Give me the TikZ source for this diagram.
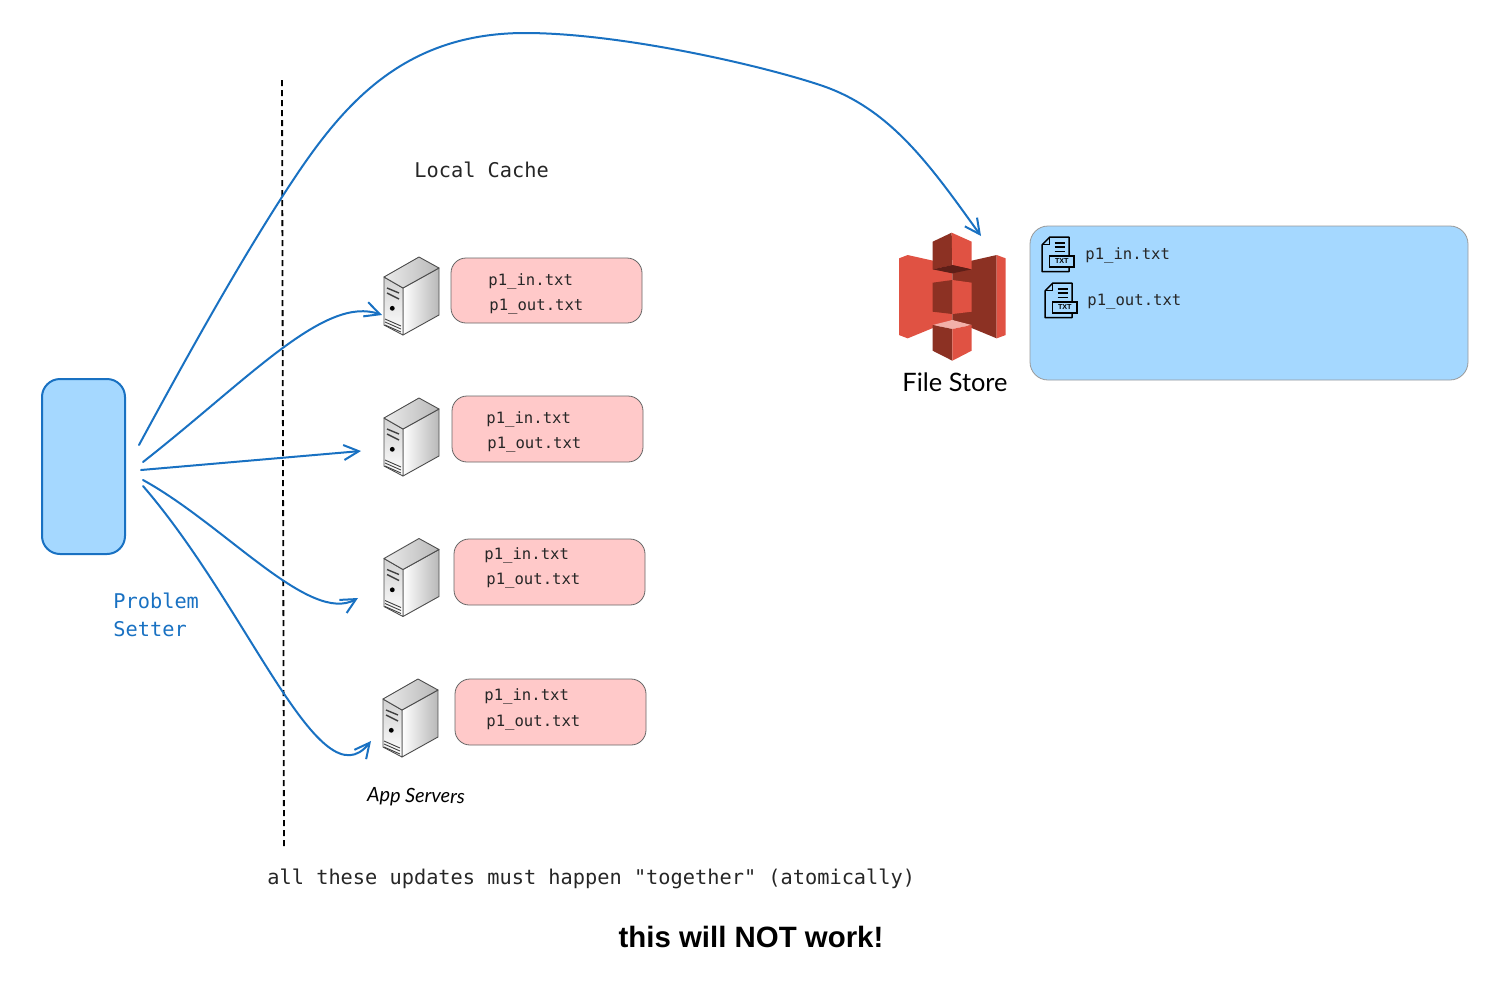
\documentclass[tikz,border=0pt]{standalone}
\usepackage{fontspec}
\setmainfont{Liberation Sans}
\setmonofont{DejaVu Sans Mono}
\newfontfamily\handfont{Lato}
\usetikzlibrary{arrows.meta}
\definecolor{flowblue}{HTML}{1971C2}
\definecolor{boxblue}{HTML}{A5D8FF}
\definecolor{boxpink}{HTML}{FFC9C9}
\definecolor{awslight}{HTML}{E05243}
\definecolor{awsdark}{HTML}{8C3123}
\definecolor{awsshadow}{HTML}{5E1F18}
\definecolor{awspale}{HTML}{F2B0A9}
\tikzset{
  x=0.5pt,y=-0.5pt,
  flow/.style={draw=flowblue,line width=1pt,line cap=round,-{Straight Barb[length=7.5pt,width=7.5pt,line width=1pt]}},
  pinkbox/.style={draw=black!60,line width=0.4pt,fill=boxpink,rounded corners=7.5pt},
  monolarge/.style={font=\ttfamily\fontsize{10.15}{12}\selectfont,inner sep=0pt,anchor=west,text=black!85},
  monosmall/.style={font=\ttfamily\fontsize{7.8}{9}\selectfont,inner sep=0pt,anchor=west,text=black!85},
  bluelabel/.style={font=\ttfamily\fontsize{10.15}{12}\selectfont,inner sep=0pt,anchor=west,text=flowblue},
  srvline/.style={draw=black!70,line width=0.45pt,line join=round},
  serverpic/.pic={
    \path[srvline,left color=white,right color=black!28] (19,31) -- (55,11) -- (55,58) -- (19,78) -- cycle;
    \path[srvline,top color=black!18,bottom color=white] (0,20) -- (19,31) -- (19,78) -- (0,68) -- cycle;
    \path[srvline,left color=black!8,right color=black!28] (0,20) -- (35,0) -- (55,11) -- (19,31) -- cycle;
    \draw[black!75,line width=0.7pt] (3,31) -- (15,36) (3,36) -- (15,42);
    \fill[black] (8.3,51.3) circle[radius=2.4];
    \draw[black!75,line width=0.45pt] (1,62) -- (17,69) (1,65) -- (17,72) (1,68) -- (17,75);
  },
  docpic/.pic={
    \draw[black,line width=0.75pt,line join=round] (0,25) -- (23,2) -- (81,2) -- (81,58) (0,25) -- (0,105) -- (81,105) -- (81,92);
    \draw[black,line width=0.6pt] (0,25) -- (23,25) -- (23,2);
    \draw[black,line width=0.7pt] (38,20) -- (68,20) (38,32) -- (68,32) (38,45) -- (68,45);
    \draw[black,line width=0.75pt,fill=boxblue] (23,58) rectangle (96,92);
    \node[font=\fontsize{3.6}{4}\selectfont\bfseries,inner sep=0pt] at (59.5,75) {TXT};
  }
}
\begin{document}
\begin{tikzpicture}
\useasboundingbox (0,0) rectangle (1512,992);

% dashed boundary
\coordinate (dashtop) at (282,80);
\coordinate (dashbot) at (284,846);
\draw[black,line width=0.9pt,dash pattern=on 3pt off 2pt] (dashtop) -- (dashbot);

% problem setter
\node[draw=flowblue,line width=1pt,fill=boxblue,rounded corners=9pt,minimum width=41.5pt,minimum height=87.5pt,inner sep=0pt] (setter) at (83.5,466.5) {};
\node[bluelabel] (setterone) at (113,601) {Problem};
\node[bluelabel] (settertwo) at (113,629.5) {Setter};

% labels
\node[monolarge] (cachelabel) at (414,170) {Local Cache};
\node[monolarge] (together) at (267,878.5) {all these updates must happen "together" (atomically)};
\node[font=\bfseries\fontsize{14.7}{18}\selectfont,inner sep=0pt] (notwork) at (751,937) {this will NOT work!};
\node[font=\handfont\itshape\fontsize{9.9}{12}\selectfont,inner sep=0pt,rotate=-1] (applabel) at (416,797) {App Servers};
\node[font=\handfont\fontsize{12.7}{15}\selectfont,inner sep=0pt] (filelabel) at (955,382) {File Store};

% servers
\pic at (384,257) {serverpic};
\pic at (384,398) {serverpic};
\pic at (384,538.5) {serverpic};
\pic at (383,679) {serverpic};

% local caches
\node[pinkbox,minimum width=95.5pt,minimum height=32.5pt,inner sep=0pt] (cacheone) at (546.5,290.5) {};
\node[pinkbox,minimum width=95.5pt,minimum height=33pt,inner sep=0pt] (cachetwo) at (547.5,429) {};
\node[pinkbox,minimum width=95.5pt,minimum height=33pt,inner sep=0pt] (cachethree) at (549.5,572) {};
\node[pinkbox,minimum width=95.5pt,minimum height=33pt,inner sep=0pt] (cachefour) at (550.5,712) {};
\node[monosmall] (ain) at (488,281) {p1\_in.txt};
\node[monosmall] (aout) at (489,307) {p1\_out.txt};
\node[monosmall] (bin) at (486,419) {p1\_in.txt};
\node[monosmall] (bout) at (487,445) {p1\_out.txt};
\node[monosmall] (cin) at (484,555) {p1\_in.txt};
\node[monosmall] (cout) at (486,581) {p1\_out.txt};
\node[monosmall] (din) at (484,696) {p1\_in.txt};
\node[monosmall] (dout) at (486,723) {p1\_out.txt};

% file store box
\node[draw=black!40,line width=0.4pt,fill=boxblue,rounded corners=9pt,minimum width=219pt,minimum height=77pt,inner sep=0pt] (storebox) at (1249,303) {};
\node[monosmall] (fin) at (1085,255) {p1\_in.txt};
\node[monosmall] (fout) at (1087,301.5) {p1\_out.txt};
\begin{scope}[shift={(1042,236.5)},x=0.1667pt,y=-0.1667pt]
\pic at (0,0) {docpic};
\end{scope}
\begin{scope}[shift={(1045,282.5)},x=0.1667pt,y=-0.1667pt]
\pic at (0,0) {docpic};
\end{scope}

% S3 bucket icon
\begin{scope}[shift={(880,210)},x=0.1667pt,y=-0.1667pt]
\fill[awslight] (57,145) -- (83,135) -- (217,165) -- (217,330) -- (83,385) -- (57,375) -- cycle;
\fill[awsdark] (217,165) -- (350,135) -- (350,385) -- (217,330) -- cycle;
\fill[awslight] (350,135) -- (377,145) -- (377,375) -- (350,385) -- cycle;
% top cube
\fill[awsdark] (158,95) -- (215,68) -- (217,165) -- (158,178) -- cycle;
\fill[awslight] (215,68) -- (275,95) -- (275,178) -- (217,165) -- cycle;
\fill[awsshadow] (158,178) -- (217,165) -- (275,178) -- (217,190) -- cycle;
% middle cube
\fill[awsdark] (158,218) -- (217,210) -- (217,312) -- (158,305) -- cycle;
\fill[awslight] (217,210) -- (275,218) -- (275,305) -- (217,312) -- cycle;
% bottom cube
\fill[awspale] (158,345) -- (217,330) -- (275,345) -- (217,357) -- cycle;
\fill[awsdark] (158,345) -- (217,357) -- (217,452) -- (158,422) -- cycle;
\fill[awslight] (217,357) -- (275,345) -- (275,422) -- (217,452) -- cycle;
\end{scope}

% connector ends
\coordinate (fromtop) at (139,445);
\coordinate (arcleft) at (282,197);
\coordinate (arcmid) at (525,33);
\coordinate (arcknee) at (820,85);
\coordinate (storetip) at (981,236);
\coordinate (fromb) at (143,462);
\coordinate (tipb) at (382,315);
\coordinate (fromc) at (141,470);
\coordinate (tipc) at (361,451);
\coordinate (fromd) at (143,480);
\coordinate (tipd) at (358,598);
\coordinate (frome) at (143,486);
\coordinate (tipe) at (371,741);

% connectors
\draw[flow] (fromtop) .. controls (185,360) and (235,270) .. (arcleft) .. controls (335,115) and (395,33) .. (arcmid) .. controls (620,33) and (760,65) .. (arcknee) .. controls (890,108) and (930,165) .. (storetip);
\draw[flow] (fromb) .. controls (250,378) and (325,295) .. (tipb);
\draw[flow] (fromc) -- (tipc);
\draw[flow] (fromd) .. controls (225,525) and (310,625) .. (tipd);
\draw[flow] (frome) .. controls (250,610) and (320,805) .. (tipe);
\end{tikzpicture}
\end{document}
